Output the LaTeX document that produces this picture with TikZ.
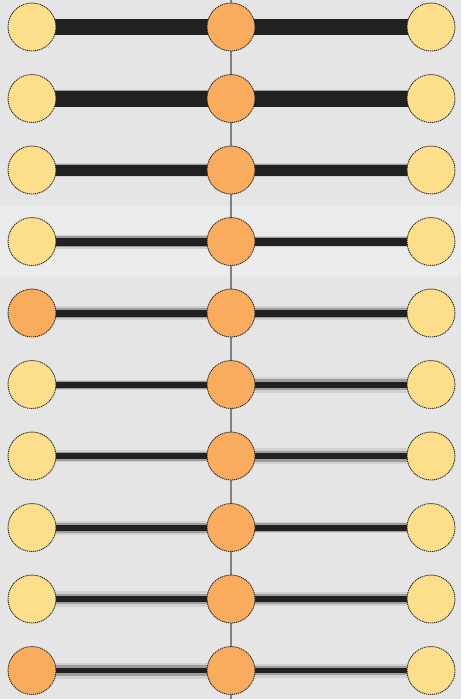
\documentclass[tikz,border=0pt]{standalone}
\usepackage{tikz}
\usetikzlibrary{positioning}
\definecolor{fondgris}{HTML}{E5E5E5}
\definecolor{fondclair}{HTML}{EBEBEB}
\definecolor{jaune}{HTML}{FDDE8A}
\definecolor{orangec}{HTML}{F9AB5E}
\pgfdeclarelayer{fond}
\pgfsetlayers{fond,main}

\begin{document}
\begin{tikzpicture}[
  x=1pt, y=-1pt,
  bille/.style={
    circle, draw=black!85, line width=0.9pt, dash pattern=on 1.2pt off 0.8pt,
    minimum size=48pt, inner sep=0pt, fill=jaune
  },
  billeor/.style={bille, fill=orangec},
  halo/.style={draw=black!18, shorten <=-8pt, shorten >=-8pt},
  demi/.style={draw=black!38, shorten <=-8pt, shorten >=-8pt},
  tige/.style={draw=black!87, shorten <=-8pt, shorten >=-8pt},
  axe/.style={draw=black!50, line width=1.1pt}
]
  \useasboundingbox (0,0) rectangle (461,699);
  \begin{pgfonlayer}{fond}
    \fill[fondgris] (0,0) rectangle (461,699);
    \fill[fondclair] (0,206) rectangle (461,277);
  \end{pgfonlayer}

  \coordinate (haut) at (231,0);
  \coordinate (bas) at (231,699);

  % rangées : gauche / centre / droite
  \foreach \i/\y/\st/\lh/\lw/\rh/\rw in {
      1/27/bille/16.5/16/16.5/16,
      2/98.5/bille/16.5/16/16.5/16,
      3/170/bille/13.5/11/13.5/11,
      4/241.5/bille/14/8/11/8,
      5/313/billeor/14/7/14/7,
      6/384.5/bille/10/6/16/6,
      7/456/bille/12/6/16/6,
      8/527.5/bille/14/6/11/6,
      9/599/bille/16/5.5/14/5.5,
      10/670.5/billeor/16/5.5/14/5.5} {
    \node[\st] (g\i) at (32,\y) {};
    \node[billeor] (c\i) at (231,\y) {};
    \node[bille] (d\i) at (431,\y) {};
    \pgfmathsetmacro\lm{(\lh+\lw)/2}
    \pgfmathsetmacro\rm{(\rh+\rw)/2}
    \begin{pgfonlayer}{fond}
      \draw[halo, line width=\lh pt] (g\i) -- (c\i);
      \draw[demi, line width=\lm pt] (g\i) -- (c\i);
      \draw[tige, line width=\lw pt] (g\i) -- (c\i);
      \draw[halo, line width=\rh pt] (c\i) -- (d\i);
      \draw[demi, line width=\rm pt] (c\i) -- (d\i);
      \draw[tige, line width=\rw pt] (c\i) -- (d\i);
    \end{pgfonlayer}
  }

  \begin{pgfonlayer}{fond}
    \draw[axe] (haut) -- (bas);
  \end{pgfonlayer}
\end{tikzpicture}
\end{document}
